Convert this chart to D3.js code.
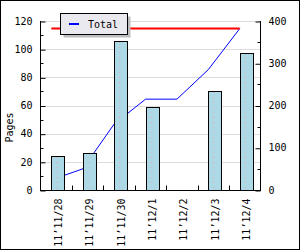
<!DOCTYPE html>
<html>
<head>
<meta charset="utf-8">
<script src="https://cdn.jsdelivr.net/npm/d3@7"></script>
<style>
  html, body { margin: 0; padding: 0; background: #fff; }
  svg { display: block; }
  text { font-family: "DejaVu Sans Mono", monospace; font-size: 10px; fill: #000; }
</style>
</head>
<body>
<div id="chart"></div>
<script>
const categories = ['11’11/28', '11’11/29', '11’11/30', '11’12/1', '11’12/2', '11’12/3', '11’12/4'];
const pages = [24, 26, 106, 59, 0, 70, 97];
const leftTicks = [0, 20, 40, 60, 80, 100, 120];
const rightTicks = [0, 100, 200, 300, 400];

// running total for the line on the right axis
const totals = [];
pages.reduce((acc, v) => { totals.push(acc + v); return acc + v; }, 0);

const W = 300, H = 250;
const plot = { left: 40, right: 260, top: 21, bottom: 190 };

const svg = d3.select('#chart').append('svg')
  .attr('width', W)
  .attr('height', H);

// frame
svg.append('rect')
  .attr('x', 0.5).attr('y', 0.5)
  .attr('width', W - 1).attr('height', H - 1)
  .attr('fill', '#fff')
  .attr('stroke', '#000');

// Scales
const xb = d3.scaleBand().domain(categories).range([plot.left + 0.5, plot.right + 0.3]);
const xs = d3.scaleBand().domain(categories).range([plot.left + 0.5, plot.right + 0.3])
  .paddingInner(0.575).paddingOuter(0.2875).align(0.6);
const yL = d3.scaleLinear().domain([0, 120]).range([plot.bottom, plot.top]);
const yR = d3.scaleLinear().domain([0, 400]).range([plot.bottom, plot.top]);

// dotted fill for bars
const defs = svg.append('defs');
const pat = defs.append('pattern')
  .attr('id', 'dots')
  .attr('patternUnits', 'userSpaceOnUse')
  .attr('x', plot.left + 0.5).attr('y', 0)
  .attr('width', xb.step()).attr('height', 5);
pat.append('rect').attr('width', xb.step()).attr('height', 5).attr('fill', '#add8e6');
pat.append('rect')
  .attr('x', xs(categories[0]) - xb(categories[0]) + 5)
  .attr('y', 2).attr('width', 1).attr('height', 1)
  .attr('fill', '#e3a9b4');

// Grid
svg.append('g')
  .selectAll('line')
  .data(leftTicks)
  .enter().append('line')
    .attr('x1', plot.left).attr('x2', plot.right)
    .attr('y1', d => Math.round(yL(d)) + 0.5)
    .attr('y2', d => Math.round(yL(d)) + 0.5)
    .attr('stroke', '#dcdcdc');

// Running total line (sits behind the bars)
const line = d3.line()
  .x((d, i) => xs(categories[i]))
  .y(d => yR(d));

svg.append('path')
  .datum(totals)
  .attr('fill', 'none')
  .attr('stroke', '#0000ff')
  .attr('stroke-width', 1)
  .attr('d', line);

// Bars (zero values draw nothing)
const barData = categories.map((c, i) => ({ cat: c, value: pages[i] })).filter(d => d.value > 0);
svg.append('g')
  .selectAll('rect')
  .data(barData)
  .enter().append('rect')
    .attr('x', d => Math.round(xs(d.cat)) + 0.5)
    .attr('y', d => Math.round(yL(d.value)) + 0.5)
    .attr('width', Math.round(xs.bandwidth()))
    .attr('height', d => Math.round(yL(0)) - Math.round(yL(d.value)))
    .attr('fill', 'url(#dots)')
    .attr('stroke', '#000');

// Max total marker
const maxTotal = d3.max(totals);
svg.append('line')
  .attr('x1', xs(categories[0]))
  .attr('x2', xs(categories[categories.length - 1]))
  .attr('y1', yR(maxTotal)).attr('y2', yR(maxTotal))
  .attr('stroke', '#ff0000')
  .attr('stroke-width', 2);

// Left axis
const gl = svg.append('g')
  .attr('transform', `translate(${plot.left + 0.5},0)`)
  .call(d3.axisLeft(yL).tickValues(leftTicks).tickSize(-5).tickPadding(8).tickFormat(d3.format('d')));
gl.select('.domain').attr('d', `M0,${plot.top}V${plot.bottom}`);
gl.selectAll('.tick line').attr('transform', 'translate(0,0.5)');
gl.selectAll('.tick text').attr('font-family', null).attr('font-size', null);
gl.append('g').selectAll('line')
  .data(d3.range(10, 120, 20))
  .enter().append('line')
    .attr('x1', 0).attr('x2', 3)
    .attr('y1', d => Math.round(yL(d)) + 0.5)
    .attr('y2', d => Math.round(yL(d)) + 0.5)
    .attr('stroke', '#000');

// Right axis
const gr = svg.append('g')
  .attr('transform', `translate(${plot.right + 0.5},0)`)
  .call(d3.axisRight(yR).tickValues(rightTicks).tickSize(-5).tickPadding(8).tickFormat(d3.format('d')));
gr.select('.domain').attr('d', `M0,${plot.top}V${plot.bottom}`);
gr.selectAll('.tick line').attr('transform', 'translate(0,0.5)');
gr.selectAll('.tick text').attr('font-family', null).attr('font-size', null);
gr.append('g').selectAll('line')
  .data(d3.range(50, 400, 100))
  .enter().append('line')
    .attr('x1', 0).attr('x2', -3)
    .attr('y1', d => Math.round(yR(d)) + 0.5)
    .attr('y2', d => Math.round(yR(d)) + 0.5)
    .attr('stroke', '#000');

// Bottom axis
const gx = svg.append('g')
  .attr('transform', `translate(0,${plot.bottom + 0.5})`);
gx.append('line')
  .attr('x1', plot.left).attr('x2', plot.right + 1)
  .attr('stroke', '#000');
gx.selectAll('.sep')
  .data(categories.slice(1))
  .enter().append('line')
    .attr('class', 'sep')
    .attr('x1', d => Math.round(xb(d)) + 0.5)
    .attr('x2', d => Math.round(xb(d)) + 0.5)
    .attr('y1', 0).attr('y2', -5)
    .attr('stroke', '#000');
gx.selectAll('.lbl')
  .data(categories)
  .enter().append('text')
    .attr('class', 'lbl')
    .attr('transform', d => `translate(${xb(d) + xb.bandwidth() / 2 + 2},8) rotate(-90)`)
    .attr('text-anchor', 'end')
    .attr('dy', '0.35em')
    .text(d => d);

// Axis title
svg.append('text')
  .attr('transform', `translate(13,${(plot.top + plot.bottom) / 2 + 22}) rotate(-90)`)
  .attr('text-anchor', 'middle')
  .text('Pages');

// Legend
const lg = svg.append('g').attr('transform', 'translate(60,13)');
lg.append('rect')
  .attr('x', 3.5).attr('y', 3.5)
  .attr('width', 67).attr('height', 21)
  .attr('fill', '#bdbdbd');
lg.append('rect')
  .attr('x', 0.5).attr('y', 0.5)
  .attr('width', 67).attr('height', 21)
  .attr('fill', '#ebe9f0')
  .attr('stroke', '#000');
lg.append('line')
  .attr('x1', 9).attr('x2', 19)
  .attr('y1', 11).attr('y2', 11)
  .attr('stroke', '#0000ff')
  .attr('stroke-width', 2);
lg.append('text')
  .attr('x', 28).attr('y', 15)
  .text('Total');
</script>
</body>
</html>
